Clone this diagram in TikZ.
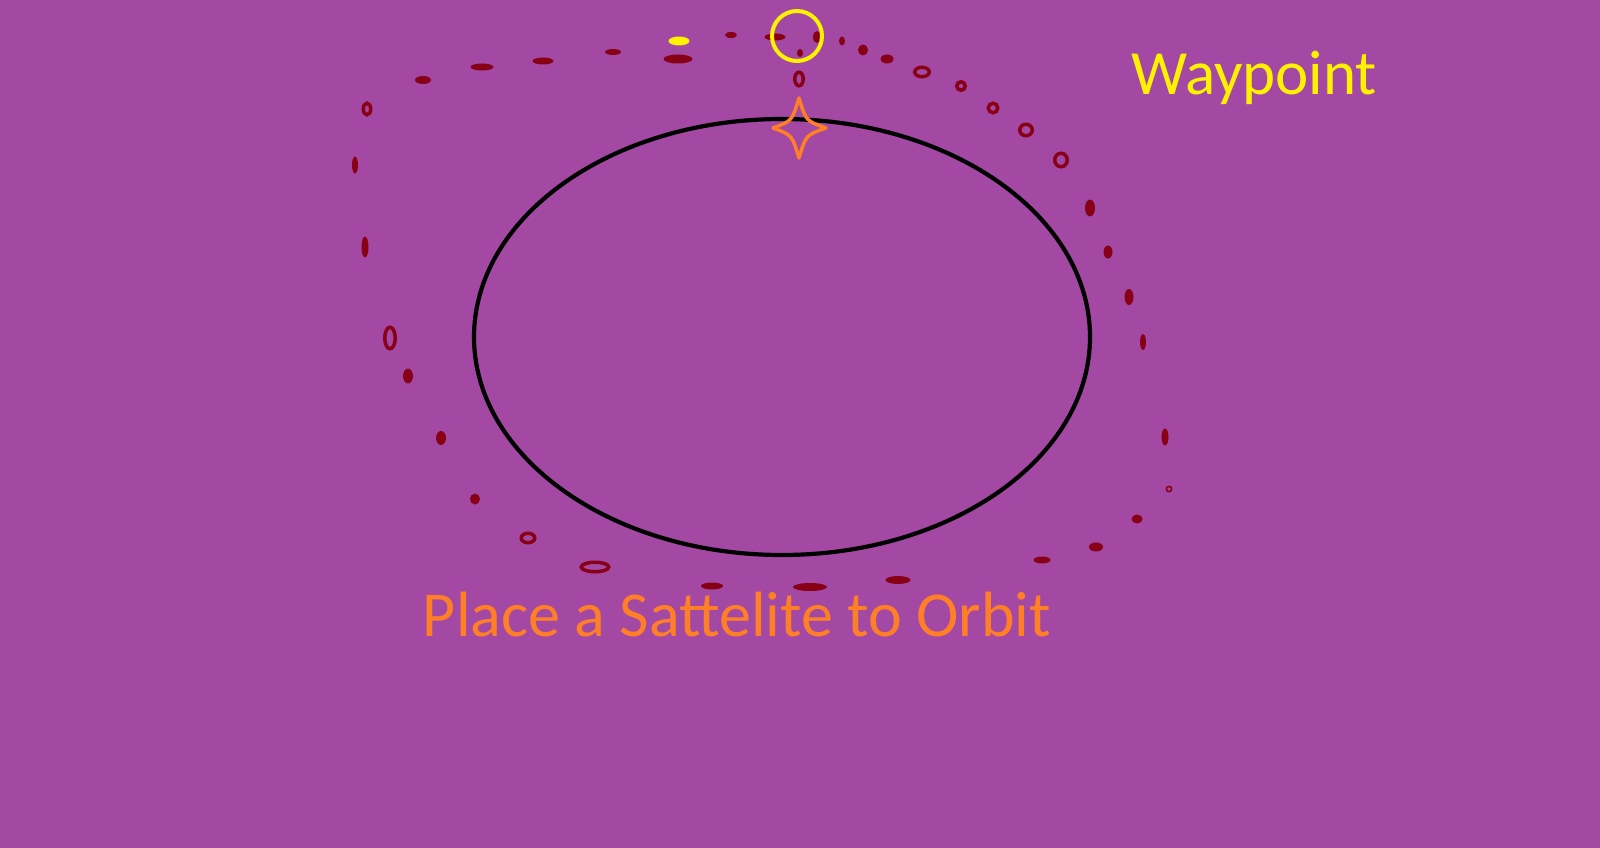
\documentclass[tikz,border=0pt]{standalone}
\usepackage{fontspec}
\setmainfont{Carlito}
\definecolor{bg}{HTML}{A349A4}
\definecolor{dred}{HTML}{880015}
\definecolor{wyellow}{HTML}{FFF200}
\definecolor{sorange}{HTML}{FF7F27}
\tikzset{
  dotfill/.style={fill=dred},
  dotring/.style={draw=dred, line width=3.5pt},
  label/.style={inner sep=0pt, anchor=base}
}
\begin{document}
\begin{tikzpicture}[x=1pt,y=-1pt]
\fill[bg] (0,0) rectangle (1600,848);
\useasboundingbox (0,0) rectangle (1600,848);
% main orbit
\draw[black, line width=4.2pt] (782,337) ellipse [x radius=308, y radius=218];
% filled dots
\foreach \x/\y/\w/\h in {423/80/16/8, 482/67/23/7, 543/61/21/7, 613/52/16/6, 678/59/29/9,
  731/35/12/6, 775/37/21/7, 817/37/8/12, 800/53/6/8, 355/165/6/17, 842/41/6/9,
  863/50/10/11, 887/59/13/9, 365/247/7/21, 408/376/10/15, 441/438/10/14, 475/499/10/11,
  1090/208/10/17, 1108/252/9/13, 1129/297/9/16, 1143/342/6/16, 1165/437/7/17,
  1137/519/11/9, 1096/547/14/9, 1042/560/17/7, 898/580/25/8, 810/587/34/8, 712/586/22/7}
  \fill[dotfill] (\x,\y) ellipse [x radius=\w/2, y radius=\h/2];
% ring dots
\foreach \x/\y/\w/\h in {367/109/11/15, 799/79/12/17, 922/72/18/13, 961/86/12/12,
  993/108/13/13, 1026/130/16/15, 1061/160/16/17, 390/338/14/25, 528/538/17/13, 595/567/31/13}
  \draw[dotring] (\x,\y) ellipse [x radius=\w/2-1.75, y radius=\h/2-1.75];
\draw[draw=dred, line width=1.6pt] (1169,489) circle [radius=2.6];
% yellow marker
\fill[wyellow] (679,41) ellipse [x radius=10.5, y radius=4.5];
\draw[wyellow, line width=4pt] (797,36) circle [radius=25];
% star
\draw[sorange, line width=3.5pt, line join=round]
  (799,98) .. controls (806,121) .. (826,128)
  .. controls (806,135) .. (799,158)
  .. controls (792,135) .. (773,128)
  .. controls (792,121) .. cycle;
% texts
\node[label, text=wyellow, font=\fontsize{63}{70}\selectfont] (wp) at (1254,95) {Waypoint};
\node[label, text=sorange, font=\fontsize{64}{72}\selectfont] (lbl) at (737,636) {Place a Sattelite to Orbit};
\end{tikzpicture}
\end{document}
